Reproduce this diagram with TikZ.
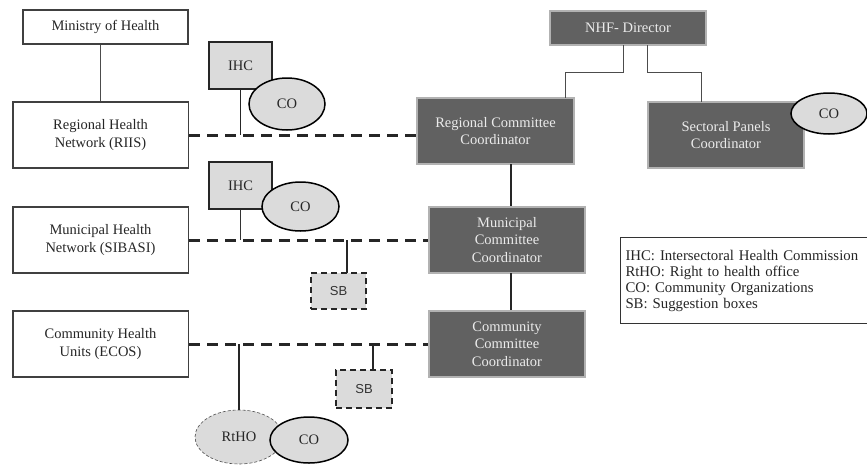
\documentclass[tikz,border=0pt]{standalone}
\usepackage{fontspec}
\setmainfont{Liberation Serif}
\newfontfamily\sbfont{Liberation Sans}
\usetikzlibrary{shapes.geometric}
\begin{document}
\begin{tikzpicture}[x=1pt,y=-1pt,
  every node/.style={inner sep=0pt, align=center, font=\fontsize{14.5}{17.5}\selectfont},
  whitebox/.style={rectangle, draw=black!75, line width=1.5pt, fill=white, text=black!85},
  darkbox/.style={rectangle, fill=black!62, draw=black!30, line width=1.5pt, text=white!92!black},
  ihcbox/.style={rectangle, fill=black!14, draw=black!85, line width=1.8pt, text=black!85, minimum width=63, minimum height=47},
  coell/.style={ellipse, fill=black!14, draw=black, line width=1.5pt, text=black!85},
  rthoell/.style={ellipse, fill=black!14, draw=black!70, line width=0.6pt, densely dashed, text=black!85},
  sbbox/.style={rectangle, fill=black!14, draw=black!85, line width=1.8pt, dash pattern=on 6pt off 4pt, text=black!80, font=\sbfont\fontsize{13}{15}\selectfont},
  thinlink/.style={line width=1pt, draw=black!70},
  link/.style={line width=1.6pt, draw=black!85},
  dashlink/.style={line width=3pt, draw=black!85, dash pattern=on 11pt off 7pt}
]
\useasboundingbox (0,0) rectangle (867,464);

% left column
\node[whitebox, minimum width=165, minimum height=34] (moh) at (105.5,27) {Ministry of Health};
\node[whitebox, minimum width=175.5, minimum height=66] (rhn) at (100.5,135) {Regional Health\\Network (RIIS)};
\node[whitebox, minimum width=175.5, minimum height=66] (mhn) at (100.5,240) {Municipal Health\\Network (SIBASI)};
\node[whitebox, minimum width=175.5, minimum height=66] (chu) at (100.5,344) {Community Health\\Units (ECOS)};

% right column
\node[darkbox, minimum width=156, minimum height=34] (nhf) at (628,28) {NHF- Director};
\node[darkbox, minimum width=157, minimum height=66] (rcc) at (495.5,131) {Regional Committee\\Coordinator};
\node[darkbox, minimum width=156, minimum height=66] (spc) at (726,135) {Sectoral Panels\\Coordinator};
\node[darkbox, minimum width=156, minimum height=66] (mcc) at (507,240) {Municipal\\Committee\\Coordinator};
\node[darkbox, minimum width=156, minimum height=66] (ccc) at (507,344) {Community\\Committee\\Coordinator};
\node[coell, minimum width=76, minimum height=41] (co4) at (829,113.5) {CO};

% connectors (solid)
\draw[thinlink] (rhn.north) -- (rhn.north |- moh.south);
\coordinate (n1) at (623,45);
\coordinate (n2) at (647,45);
\draw[thinlink] (n1) -- (623,72) -- (565,72) -- (565,98);
\draw[thinlink] (n2) -- (647,72) -- (701,72) -- (701,102);
\coordinate (rm) at (511,164);
\draw[link] (rm) -- (rm |- mcc.north);
\coordinate (mc) at (511,273);
\draw[link] (mc) -- (mc |- ccc.north);

% dashed links
\coordinate (d1) at (rhn.east);
\coordinate (d2) at (mhn.east);
\coordinate (d3) at (chu.east);
\draw[dashlink] (d1) -- (d1 -| rcc.west);
\draw[dashlink] (d2) -- (d2 -| mcc.west);
\draw[dashlink] (d3) -- (d3 -| ccc.west);

% IHC / CO groups
\node[ihcbox] (ihc1) at (240.5,65.5) {IHC};
\draw[link] (ihc1.south) -- (ihc1.south |- d1);
\node[coell, minimum width=76, minimum height=52] (co1) at (287,104) {CO};

\node[ihcbox] (ihc2) at (240.5,185.5) {IHC};
\draw[thinlink, draw=black!80] (ihc2.south) -- (ihc2.south |- d2);
\node[coell, minimum width=77, minimum height=49] (co2) at (300.5,206.5) {CO};

% suggestion boxes
\node[sbbox, minimum width=55, minimum height=36] (sb1) at (338.5,291) {SB};
\coordinate (s1) at (347,273);
\draw[link] (s1) -- (s1 |- d2);
\node[sbbox, minimum width=56, minimum height=38] (sb2) at (364,389) {SB};
\coordinate (s2) at (373,370);
\draw[link] (s2) -- (s2 |- d3);

% RtHO and CO
\node[rthoell, minimum width=88, minimum height=54] (rtho) at (239,437) {RtHO};
\draw[link] (rtho.north) -- (rtho.north |- d3);
\node[coell, minimum width=78, minimum height=46] (co3) at (309,440) {CO};

% legend
\node[rectangle, draw=black!80, line width=1pt, fill=white, anchor=north west, align=left,
      minimum width=247, minimum height=86, text width=237, inner xsep=5pt,
      font=\fontsize{14.8}{16}\selectfont, text=black!85] (legend) at (620,237)
  {IHC: Intersectoral Health Commission\\RtHO: Right to health office\\CO: Community Organizations\\SB: Suggestion boxes};
\end{tikzpicture}
\end{document}
